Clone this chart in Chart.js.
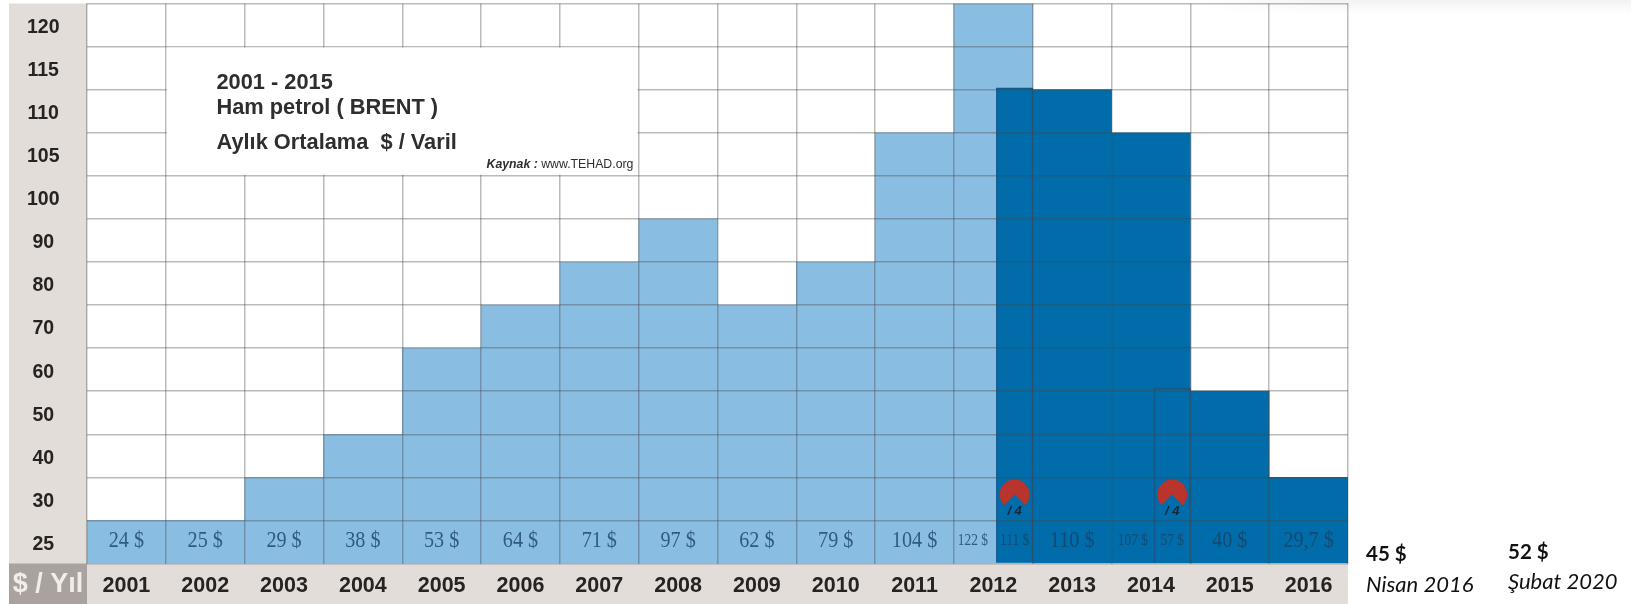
<!DOCTYPE html>
<html lang="tr"><head><meta charset="utf-8">
<style>html,body{margin:0;padding:0;background:#fff}#w{width:1631px;height:604px;position:relative}canvas{display:block}</style>
<script src="https://cdn.jsdelivr.net/npm/chart.js@4/dist/chart.umd.min.js"></script>
</head><body><div id="w"><canvas id="c" width="1631" height="604"></canvas></div>
<script>
const years = ['2001','2002','2003','2004','2005','2006','2007','2008','2009','2010','2011','2012','2013','2014','2015','2016'];
// Uneven value bands of the axis, bottom to top
const bands = ['25','30','40','50','60','70','80','90','100','105','110','115','120'];
// Band reached by each year's bar
const topBand = ['25','25','30','40','60','70','80','90','70','80','105','120','110','105','50','30'];
const darkYears = ['2013','2014','2015','2016'];
// Narrow overlay bars, position in years and height in band rows
const narrowYears = [2012.27, 2014.27];
const narrowRows = [11.04, 4.07];
const priceLabels = ['24 $','25 $','29 $','38 $','53 $','64 $','71 $','97 $','62 $','79 $','104 $','122 $','110 $','107 $','40 $','29,7 $'];
const priceLabelYears = [2001,2002,2003,2004,2005,2006,2007,2008,2009,2010,2011,2011.74,2013,2013.77,2015,2016];
const narrowLabels = ['111 $','57 $'];
const titleLines = ['2001 - 2015','Ham petrol ( BRENT )','Aylık Ortalama  $ / Varil'];
const noteA = ['45 $','Nisan 2016'];
const noteB = ['52 $','Şubat 2020'];

const LIGHT='#8abde2', DARK='#006ca9', BAND='#e3ddd9', CORNER='#a9a29e';
const rows = topBand.map(b => bands.indexOf(b)+1);

const paint = {
  id:'paint',
  beforeDraw(ch){
    const {ctx,chartArea:a,width,height}=ch;
    ctx.save();
    const g=ctx.createLinearGradient(0,0,0,14);
    g.addColorStop(0,'#f2f2f2');g.addColorStop(1,'#ffffff');
    ctx.fillStyle=g;ctx.fillRect(1200,0,width-1200,14);
    const g2=ctx.createLinearGradient(1200,0,1340,0);
    g2.addColorStop(0,'rgba(255,255,255,1)');g2.addColorStop(1,'rgba(255,255,255,0)');
    ctx.fillStyle=g2;ctx.fillRect(1200,0,140,14);
    ctx.fillStyle=BAND;
    ctx.fillRect(9,a.top,a.left-9,height-a.top);
    ctx.fillRect(a.left,a.bottom,a.right-a.left,height-a.bottom);
    ctx.fillStyle=CORNER;
    ctx.fillRect(9,a.bottom,a.left-9,height-a.bottom);
    ctx.fillStyle='#f1ede9';
    ctx.font='bold 27px "Liberation Sans"';
    ctx.textAlign='center';ctx.textBaseline='middle';
    ctx.fillText('$ / Yıl',(9+a.left)/2,(a.bottom+height)/2+1);
    ctx.restore();
  },
  afterDraw(ch){
    const {ctx,scales}=ch, y=scales.y, x=scales.x2;
    ctx.save();
    // title box
    const bx0=x.getPixelForValue(2001.5), bx1=x.getPixelForValue(2007.5);
    const by0=y.getPixelForValue(12), by1=y.getPixelForValue(9);
    ctx.fillStyle='#fff';ctx.fillRect(bx0+1,by0+1,bx1-bx0-2,by1-by0-2);
    ctx.fillStyle='#2e2e2e';ctx.textAlign='left';ctx.textBaseline='alphabetic';
    ctx.font='bold 21.8px "Liberation Sans"';
    [[titleLines[0],89],[titleLines[1],114],[titleLines[2],149]].forEach(([t,b])=>{
      ctx.fillText(t,216.5,b);
    });
    ctx.font='italic bold 12.3px "Liberation Sans"';
    ctx.fillText('Kaynak :',486.5,168);
    const w=ctx.measureText('Kaynak : ').width;
    ctx.font='12.3px "Liberation Sans"';
    ctx.fillText('www.TEHAD.org',486.5+w,168);
    // price labels
    const yc=y.getPixelForValue(.5)-1;
    const label=(t,px,size,col)=>{
      ctx.save();ctx.translate(px,yc);ctx.scale(.84,1);
      ctx.font=size+'px "Liberation Serif"';ctx.fillStyle=col;
      ctx.textAlign='center';ctx.textBaseline='middle';ctx.fillText(t,0,0);ctx.restore();
    };
    priceLabels.forEach((t,i)=>{
      const yr=priceLabelYears[i];
      const small=yr%1!==0;
      label(t,x.getPixelForValue(yr),small?16:24,yr>=2012?'#144a74':'#2f5c7e');
    });
    narrowLabels.forEach((t,i)=>label(t,x.getPixelForValue(narrowYears[i]),16,'#144a74'));
    // pie marks with / 4
    narrowYears.forEach(v=>{
      const cx=x.getPixelForValue(v), cy=y.getPixelForValue(1.6);
      ctx.fillStyle='#b8342d';
      ctx.beginPath();ctx.moveTo(cx,cy);
      ctx.arc(cx,cy,15,Math.PI*.25,Math.PI*.75,true);
      ctx.closePath();ctx.fill();
      ctx.fillStyle='#14283c';ctx.font='italic bold 13px "Liberation Sans"';
      ctx.textAlign='center';ctx.textBaseline='middle';
      ctx.fillText('/ 4',cx,y.getPixelForValue(1.2));
    });
    // notes
    ctx.fillStyle='#111';ctx.textAlign='left';ctx.textBaseline='alphabetic';
    ctx.font='bold 20.5px Lato';ctx.fillText(noteA[0],1366,561);ctx.fillText(noteB[0],1508,559);
    ctx.font='italic 22px Lato';ctx.fillText(noteA[1],1366,591.5);ctx.fillText(noteB[1],1508,589);
    ctx.restore();
  }
};

const gridCol='rgba(70,70,70,.37)';
new Chart(document.getElementById('c'),{
  data:{labels:years,datasets:[
    {type:'bar',label:'Ham petrol',xAxisID:'x',yAxisID:'y',data:rows,grouped:false,
     backgroundColor:years.map(v=>darkYears.includes(v)?DARK:LIGHT),
     barPercentage:1,categoryPercentage:1,borderWidth:0,order:2},
    {type:'bar',label:'Çeyrek',xAxisID:'x2',yAxisID:'y',grouped:false,
     data:narrowYears.map((v,i)=>({x:v,y:narrowRows[i]})),
     backgroundColor:DARK,borderColor:'#14588a',barThickness:36.5,borderWidth:1.5,order:1}
  ]},
  options:{
    responsive:false,animation:false,
    layout:{padding:{left:9,right:283,top:3.5,bottom:0}},
    plugins:{legend:{display:false},tooltip:{enabled:false}},
    scales:{
      x:{type:'category',position:'bottom',offset:true,
         grid:{display:true,color:gridCol,lineWidth:1.5,z:1,drawTicks:false,offset:true},
         border:{display:false},
         ticks:{color:'#262320',font:{family:'"Liberation Sans"',size:21.5,weight:'bold'},padding:10,maxRotation:0,autoSkip:false},
         afterFit(s){s.height=40.5;s.paddingLeft=0;s.paddingRight=0}},
      x2:{type:'linear',position:'top',display:false,offset:false,min:2000.5,max:2016.5},
      y:{type:'linear',position:'right',min:0,max:13,display:true,
         afterFit(s){s.width=0;s.paddingTop=0;s.paddingBottom=0},
         ticks:{display:false,stepSize:1,autoSkip:false},
         grid:{color:gridCol,lineWidth:1.5,z:1,drawTicks:false},border:{display:false}},
      yBand:{type:'category',position:'left',labels:bands,reverse:true,offset:true,
         grid:{display:false},border:{display:false},
         ticks:{color:'#262320',font:{family:'"Liberation Sans"',size:19.5,weight:'bold'},autoSkip:false,padding:19.5,labelOffset:2.5,align:'center',crossAlign:'center'},
         afterFit(s){s.width=78;s.paddingTop=0;s.paddingBottom=0}}
    }
  },
  plugins:[paint]
});
</script></body></html>
